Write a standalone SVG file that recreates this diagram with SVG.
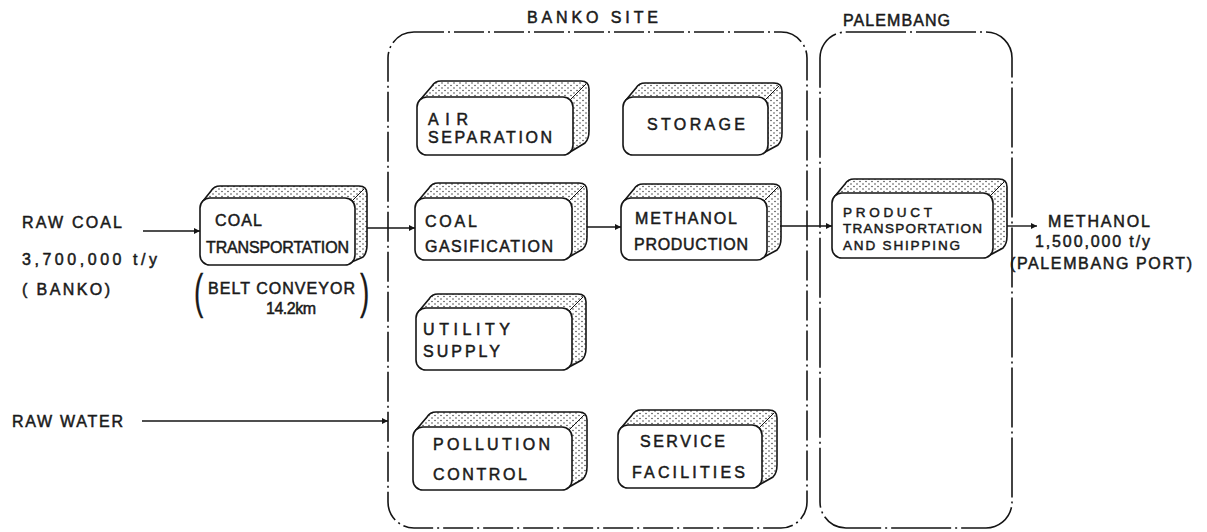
<svg xmlns="http://www.w3.org/2000/svg" width="1207" height="532" viewBox="0 0 1207 532">
<style>
text{font-family:"Liberation Sans",Arial,sans-serif;font-size:16px;fill:#1a1a1a;stroke:#1a1a1a;stroke-width:0.5}
.sm{font-size:13.5px}
.ext{fill:url(#dots);stroke:#151515;stroke-width:1.6}
.face{fill:#fff;stroke:#151515;stroke-width:1.6}
.diag{stroke:#151515;stroke-width:1}
.cont{fill:none;stroke:#151515;stroke-width:1.6;stroke-dasharray:30 4 2 4}
.cont2{fill:none;stroke:#151515;stroke-width:1.6;stroke-dasharray:60 4 2 4}
.conn{stroke:#151515;stroke-width:1.4;fill:none;marker-end:url(#ah)}
.paren{font-size:28px;stroke-width:0.2}
</style>
<defs>
<pattern id="dots" width="6" height="5" patternUnits="userSpaceOnUse">
<rect width="6" height="5" fill="#fff"/>
<circle cx="1" cy="1" r="0.7" fill="#222"/>
<circle cx="4" cy="3.5" r="0.7" fill="#222"/>
</pattern>
<marker id="ah" viewBox="0 0 10 10" refX="10" refY="5" markerWidth="8" markerHeight="6" markerUnits="userSpaceOnUse" orient="auto">
<path d="M0 0 L10 5 L0 10 Z" fill="#151515"/>
</marker>
</defs>
<rect width="1207" height="532" fill="#fff"/>

<g id="banko-site">
<rect class="cont" x="388" y="32" width="419" height="496" rx="26"/>
<text x="527" y="23" textLength="131" lengthAdjust="spacing">BANKO SITE</text>
</g>
<g id="palembang">
<rect class="cont2" x="820" y="32" width="192" height="496" rx="26"/>
<text x="843" y="26" textLength="107" lengthAdjust="spacing">PALEMBANG</text>
</g>

<g id="raw-coal">
<text x="22" y="228" textLength="100" lengthAdjust="spacing">RAW COAL</text>
<text x="22" y="265" textLength="135" lengthAdjust="spacing">3,700,000 t/y</text>
<text x="22" y="295" textLength="88" lengthAdjust="spacing">( BANKO)</text>
</g>
<g id="raw-water">
<text x="12" y="427" textLength="111" lengthAdjust="spacing">RAW WATER</text>
</g>
<g id="methanol-out">
<text x="1048" y="227" textLength="102" lengthAdjust="spacing">METHANOL</text>
<text x="1035" y="247" textLength="115" lengthAdjust="spacing">1,500,000 t/y</text>
<text x="1010" y="269" textLength="182" lengthAdjust="spacing">(PALEMBANG PORT)</text>
</g>

<g id="coal-transportation" transform="translate(200,198)">
<path class="ext" d="M3 3 L11 -7 Q14 -12 20 -12 L159 -12 Q167 -12 167 -4 L167 47 Q167 55 163 59 L152 64 Z"/>
<line class="diag" x1="152" y1="3" x2="164" y2="-9"/>
<rect class="face" x="0" y="0" width="155" height="67" rx="10"/>
<text x="15" y="28" textLength="47" lengthAdjust="spacing">COAL</text>
<text x="6" y="55" textLength="143" lengthAdjust="spacing">TRANSPORTATION</text>
</g>
<g id="belt-conveyor">
<text class="paren" x="194" y="308" transform="translate(194,308) scale(1,1.75) translate(-194,-308)">(</text>
<text x="208" y="294" textLength="147" lengthAdjust="spacing">BELT CONVEYOR</text>
<text x="266" y="314" textLength="50" lengthAdjust="spacing">14.2km</text>
<text class="paren" x="360" y="308" transform="translate(360,308) scale(1,1.75) translate(-360,-308)">)</text>
</g>

<g id="air-separation" transform="translate(417,97)">
<path class="ext" d="M3 3 L15 -11 Q18 -16 24 -16 L164 -16 Q172 -16 172 -8 L172 34 Q172 42 168 46 L153 55 Z"/>
<line class="diag" x1="153" y1="3" x2="169" y2="-13"/>
<rect class="face" x="0" y="0" width="156" height="58" rx="10"/>
<text x="11" y="28" textLength="40" lengthAdjust="spacing">AIR</text>
<text x="11" y="46" textLength="124" lengthAdjust="spacing">SEPARATION</text>
</g>
<g id="storage" transform="translate(623,97)">
<path class="ext" d="M3 3 L13 -9 Q16 -14 22 -14 L151 -14 Q159 -14 159 -6 L159 36 Q159 44 155 48 L142 55 Z"/>
<line class="diag" x1="142" y1="3" x2="156" y2="-11"/>
<rect class="face" x="0" y="0" width="145" height="58" rx="10"/>
<text x="24" y="33" textLength="98" lengthAdjust="spacing">STORAGE</text>
</g>
<g id="coal-gasification" transform="translate(415,198)">
<path class="ext" d="M3 3 L14 -10 Q17 -15 23 -15 L164 -15 Q172 -15 172 -7 L172 39 Q172 47 168 51 L154 59 Z"/>
<line class="diag" x1="154" y1="3" x2="169" y2="-12"/>
<rect class="face" x="0" y="0" width="157" height="62" rx="10"/>
<text x="10" y="29" textLength="52" lengthAdjust="spacing">COAL</text>
<text x="10" y="54" textLength="128" lengthAdjust="spacing">GASIFICATION</text>
</g>
<g id="methanol-production" transform="translate(621,198)">
<path class="ext" d="M3 3 L13 -9 Q16 -14 22 -14 L152 -14 Q160 -14 160 -6 L160 40 Q160 48 156 52 L143 59 Z"/>
<line class="diag" x1="143" y1="3" x2="157" y2="-11"/>
<rect class="face" x="0" y="0" width="146" height="62" rx="10"/>
<text x="14" y="26" textLength="102" lengthAdjust="spacing">METHANOL</text>
<text x="13" y="52" textLength="114" lengthAdjust="spacing">PRODUCTION</text>
</g>
<g id="utility-supply" transform="translate(416,308)">
<path class="ext" d="M3 3 L13 -9 Q16 -14 22 -14 L162 -14 Q170 -14 170 -6 L170 40 Q170 48 166 52 L153 59 Z"/>
<line class="diag" x1="153" y1="3" x2="167" y2="-11"/>
<rect class="face" x="0" y="0" width="156" height="62" rx="10"/>
<text x="7" y="27" textLength="87" lengthAdjust="spacing">UTILITY</text>
<text x="7" y="49" textLength="77" lengthAdjust="spacing">SUPPLY</text>
</g>
<g id="pollution-control" transform="translate(413,427)">
<path class="ext" d="M3 3 L14 -10 Q17 -15 23 -15 L166 -15 Q174 -15 174 -7 L174 40 Q174 48 170 52 L156 60 Z"/>
<line class="diag" x1="156" y1="3" x2="171" y2="-12"/>
<rect class="face" x="0" y="0" width="159" height="63" rx="10"/>
<text x="20" y="23" textLength="117" lengthAdjust="spacing">POLLUTION</text>
<text x="20" y="53" textLength="94" lengthAdjust="spacing">CONTROL</text>
</g>
<g id="service-facilities" transform="translate(618,425)">
<path class="ext" d="M3 3 L14 -10 Q17 -15 23 -15 L151 -15 Q159 -15 159 -7 L159 40 Q159 48 155 52 L141 60 Z"/>
<line class="diag" x1="141" y1="3" x2="156" y2="-12"/>
<rect class="face" x="0" y="0" width="144" height="63" rx="10"/>
<text x="22" y="22" textLength="85" lengthAdjust="spacing">SERVICE</text>
<text x="14" y="53" textLength="113" lengthAdjust="spacing">FACILITIES</text>
</g>
<g id="product-transportation" transform="translate(832,193)">
<path class="ext" d="M3 3 L13 -9 Q16 -14 22 -14 L167 -14 Q175 -14 175 -6 L175 43 Q175 51 171 55 L158 62 Z"/>
<line class="diag" x1="158" y1="3" x2="172" y2="-11"/>
<rect class="face" x="0" y="0" width="161" height="65" rx="10"/>
<text class="sm" x="11" y="24" textLength="89" lengthAdjust="spacing">PRODUCT</text>
<text class="sm" x="11" y="40" textLength="139" lengthAdjust="spacing">TRANSPORTATION</text>
<text class="sm" x="11" y="57" textLength="117" lengthAdjust="spacing">AND SHIPPING</text>
</g>

<g id="connectors">
<line class="conn" x1="143" y1="231" x2="200" y2="231"/>
<line class="conn" x1="367" y1="228" x2="415" y2="228"/>
<line class="conn" x1="587" y1="227" x2="621" y2="227"/>
<line class="conn" x1="780" y1="226" x2="832" y2="226"/>
<line class="conn" x1="1007" y1="226" x2="1037" y2="226"/>
<line class="conn" x1="142" y1="421" x2="388" y2="421"/>
</g>
</svg>
